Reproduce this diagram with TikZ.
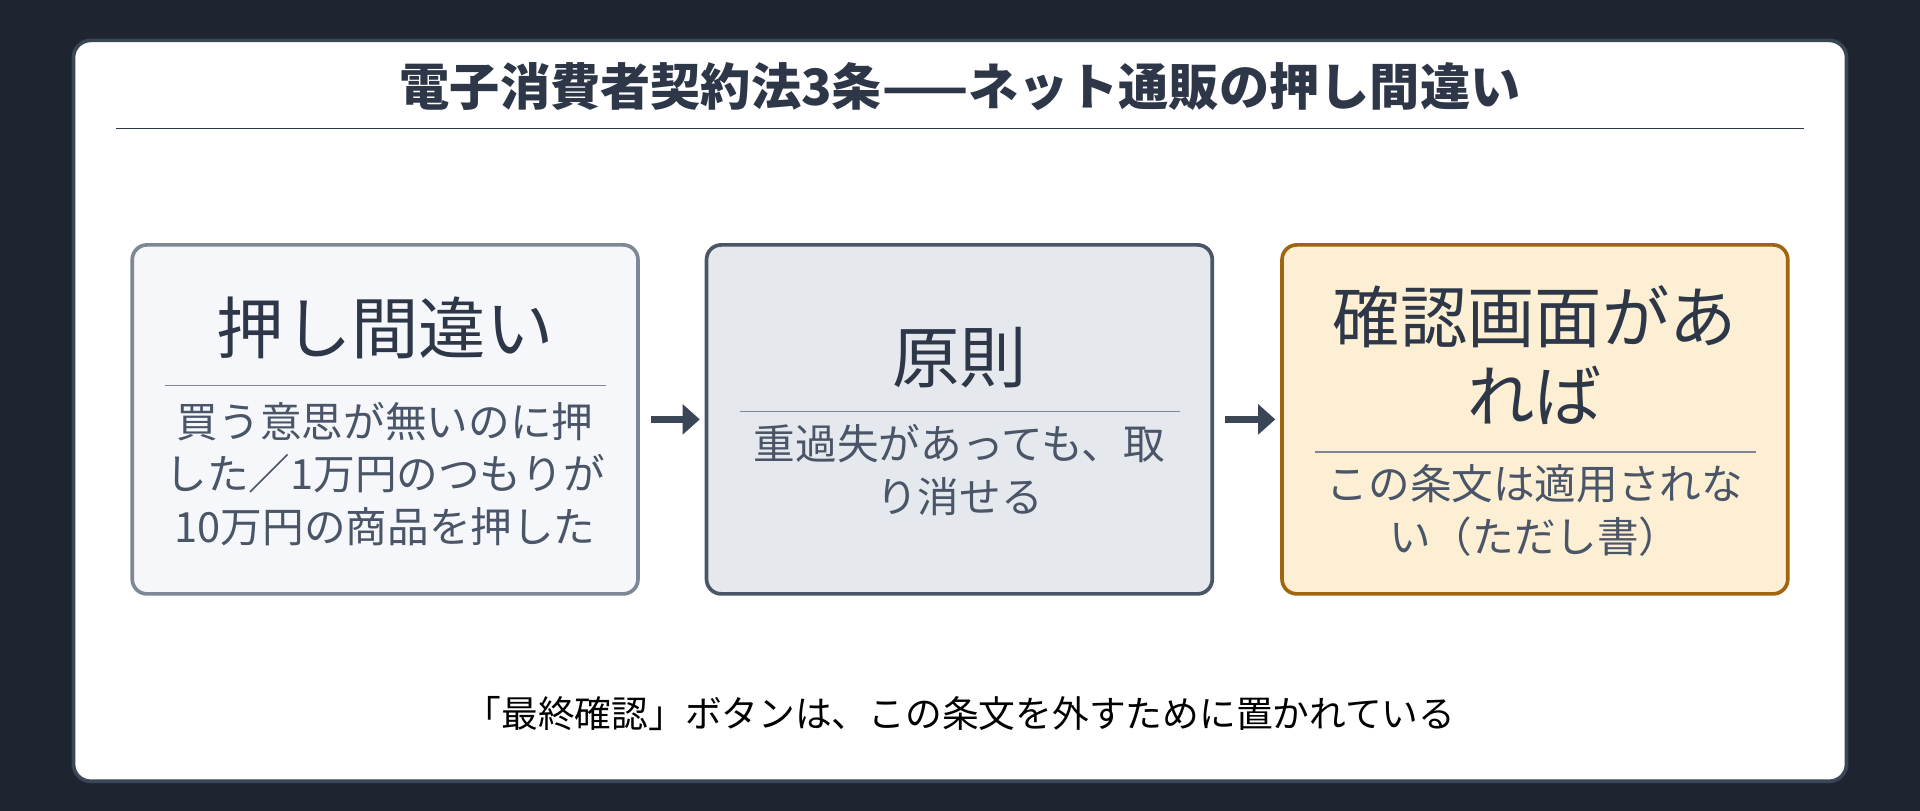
\documentclass[tikz,border=0pt]{standalone}
\usepackage{fontspec}
\setmainfont{Noto Sans CJK JP}
\usepackage{xcolor}
\usetikzlibrary{positioning,arrows.meta,calc}
\definecolor{bgdark}{HTML}{1E2530}
\definecolor{frame}{HTML}{3A4556}
\definecolor{ink}{HTML}{2D3748}
\definecolor{soft}{HTML}{4A5568}
\definecolor{mildfill}{HTML}{F5F7FA}
\definecolor{mildedge}{HTML}{7D8795}
\definecolor{basefill}{HTML}{E5E8EC}
\definecolor{baseedge}{HTML}{4A5568}
\definecolor{warnfill}{HTML}{FCEFD4}
\definecolor{warnedge}{HTML}{A0660F}

\tikzset{
  stage/.style={rectangle, rounded corners=12pt, line width=3pt, minimum width=413pt, minimum height=285pt},
  head/.style={font=\fontsize{55}{65}\selectfont, text=ink, align=center},
  body/.style={font=\fontsize{34}{43}\selectfont, text=soft, align=center},
  rule/.style={mildedge, line width=1.2pt},
  go/.style={-{Triangle[length=14pt,width=24pt]}, line width=6pt, frame, shorten <=9pt, shorten >=4pt}
}

\begin{document}
\begin{tikzpicture}[x=1pt,y=-1pt]
\useasboundingbox (0,0) rectangle (1568,662);
\fill[bgdark] (0,0) rectangle (1568,662);
\draw[fill=white, draw=frame, line width=3pt, rounded corners=14pt] (60,33) rectangle (1508,638);

% title
\node[font=\fontsize{41}{48}\selectfont\bfseries, text=ink] (title) at (784,71) {電子消費者契約法3条——ネット通販の押し間違い};
\draw[ink, line width=1.5pt] (95,105) -- (1473,105);

% stages
\node[stage, fill=mildfill, draw=mildedge] (mistake) at (314.5,342.5) {};
\node[stage, fill=basefill, draw=baseedge] (rule) at (783.5,342.5) {};
\node[stage, fill=warnfill, draw=warnedge] (except) at (1253.5,342.5) {};

\node[head] (mistakeHead) at (314.5,268) {押し間違い};
\draw[rule] (135,315) -- (495,315);
\node[body] (mistakeBody) at (314.5,387) {買う意思が無いのに押\\した／1万円のつもりが\\10万円の商品を押した};

\node[head] (ruleHead) at (783.5,292) {原則};
\draw[rule] (604,336) -- (964,336);
\node[body] (ruleBody) at (783.5,384) {重過失があっても、取\\り消せる};

\node[head] (exceptHead) at (1253.5,290) {確認画面があ\\れば};
\draw[rule] (1074,369) -- (1434,369);
\node[body] (exceptBody) at (1253.5,417) {この条文は適用されな\\い（ただし書）};

\draw[go] (mistake) -- (rule);
\draw[go] (rule) -- (except);

% footer
\node[font=\fontsize{30}{36}\selectfont, text=black] (note) at (784,583) {「最終確認」ボタンは、この条文を外すために置かれている};
\end{tikzpicture}
\end{document}
